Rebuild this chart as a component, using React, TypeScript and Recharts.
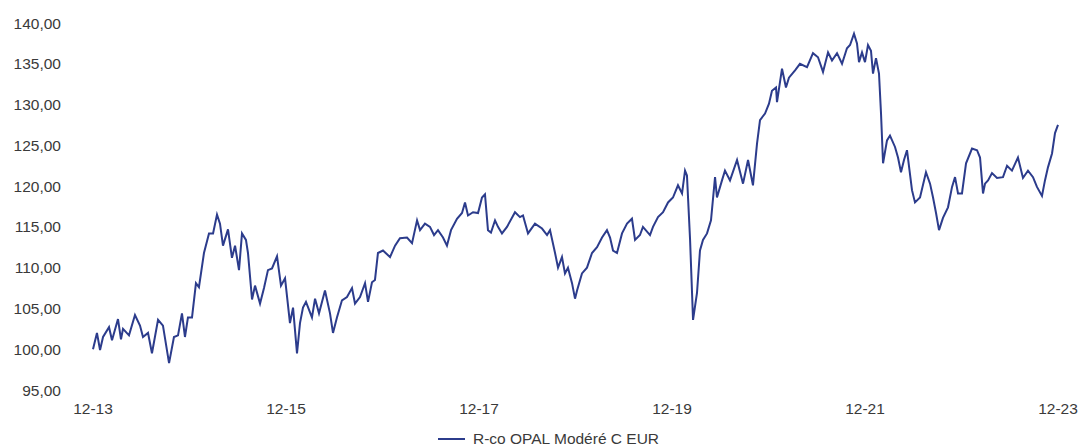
import { LineChart, Line, XAxis, YAxis } from "recharts"

// years elapsed since december 2013
const years = [
  0.0, 0.041, 0.073, 0.104, 0.166, 0.197, 0.259, 0.29, 0.311, 0.373, 0.435, 0.487, 0.518, 0.57, 0.611, 0.674,
  0.725, 0.788, 0.839, 0.881, 0.922, 0.953, 0.984, 1.026, 1.067, 1.098, 1.15, 1.202, 1.244, 1.285, 1.316, 1.347,
  1.399, 1.44, 1.472, 1.513, 1.544, 1.585, 1.606, 1.648, 1.679, 1.731, 1.772, 1.813, 1.855, 1.907, 1.948, 1.99,
  2.041, 2.073, 2.114, 2.145, 2.176, 2.207, 2.269, 2.301, 2.342, 2.404, 2.456, 2.487, 2.528, 2.58, 2.632, 2.684,
  2.715, 2.767, 2.819, 2.85, 2.891, 2.922, 2.953, 3.005, 3.078, 3.13, 3.181, 3.254, 3.306, 3.358, 3.389, 3.44,
  3.492, 3.534, 3.575, 3.627, 3.668, 3.71, 3.772, 3.824, 3.855, 3.886, 3.938, 3.99, 4.031, 4.062, 4.093, 4.124,
  4.166, 4.197, 4.238, 4.29, 4.373, 4.425, 4.456, 4.508, 4.58, 4.653, 4.705, 4.736, 4.788, 4.819, 4.86, 4.891,
  4.922, 4.964, 4.995, 5.016, 5.067, 5.119, 5.171, 5.223, 5.275, 5.326, 5.358, 5.389, 5.43, 5.482, 5.534, 5.585,
  5.617, 5.668, 5.699, 5.772, 5.803, 5.855, 5.907, 5.959, 6.01, 6.062, 6.104, 6.135, 6.155, 6.187, 6.218, 6.259,
  6.29, 6.321, 6.363, 6.404, 6.446, 6.466, 6.518, 6.549, 6.601, 6.674, 6.736, 6.788, 6.839, 6.881, 6.912, 6.964,
  7.005, 7.036, 7.078, 7.088, 7.14, 7.181, 7.212, 7.275, 7.326, 7.399, 7.461, 7.513, 7.565, 7.617, 7.658, 7.71,
  7.762, 7.813, 7.845, 7.886, 7.917, 7.938, 7.969, 8.0, 8.031, 8.062, 8.083, 8.114, 8.145, 8.166, 8.187, 8.228,
  8.259, 8.311, 8.342, 8.373, 8.404, 8.435, 8.487, 8.518, 8.57, 8.632, 8.674, 8.705, 8.736, 8.767, 8.808, 8.86,
  8.902, 8.933, 8.964, 9.005, 9.047, 9.109, 9.161, 9.192, 9.223, 9.244, 9.275, 9.316, 9.368, 9.43, 9.472, 9.523,
  9.585, 9.637, 9.689, 9.741, 9.782, 9.834, 9.865, 9.896, 9.938, 9.969, 10.0,
]

const values = [
  100.0, 102.0, 99.9, 101.5, 102.7, 101.1, 103.7, 101.2, 102.5, 101.7, 104.2, 102.9, 101.5, 102.0, 99.5, 103.6,
  102.9, 98.3, 101.5, 101.7, 104.4, 101.5, 103.9, 103.9, 108.1, 107.6, 111.8, 114.2, 114.2, 116.5, 115.4, 112.7,
  114.7, 111.2, 112.7, 109.7, 114.2, 113.4, 111.8, 106.1, 107.8, 105.6, 107.5, 109.7, 109.9, 111.4, 107.8, 108.7,
  103.2, 105.1, 99.5, 103.2, 105.1, 105.8, 103.9, 106.2, 104.4, 107.2, 104.4, 102.0, 103.9, 106.0, 106.4, 107.5,
  105.6, 106.4, 108.1, 105.8, 108.2, 108.5, 111.8, 112.1, 111.3, 112.7, 113.6, 113.7, 113.0, 115.8, 114.6, 115.4,
  115.0, 114.0, 114.6, 113.7, 112.7, 114.6, 116.0, 116.7, 118.0, 116.4, 116.8, 116.7, 118.6, 119.0, 114.6, 114.3,
  115.8, 115.0, 114.2, 115.0, 116.8, 116.2, 116.4, 114.2, 115.4, 114.8, 114.0, 114.6, 111.8, 110.0, 111.3, 109.3,
  110.0, 108.1, 106.2, 107.2, 109.3, 110.0, 111.8, 112.5, 113.7, 114.6, 113.7, 112.1, 111.8, 114.2, 115.4, 116.0,
  113.4, 114.0, 115.0, 114.0, 115.0, 116.2, 116.8, 118.0, 118.6, 120.1, 119.1, 121.9, 121.3, 113.5, 103.6, 106.9,
  112.1, 113.4, 114.2, 115.8, 121.1, 118.6, 120.7, 121.9, 120.7, 123.2, 120.3, 123.2, 120.1, 125.2, 128.1, 128.9,
  130.1, 131.7, 132.1, 130.3, 134.4, 132.1, 133.3, 134.2, 135.0, 134.6, 136.3, 135.8, 134.0, 136.4, 135.4, 136.3,
  135.0, 136.9, 137.3, 138.7, 137.5, 135.2, 136.4, 135.2, 137.3, 136.6, 133.8, 135.7, 133.8, 128.9, 122.8, 125.6,
  126.2, 124.8, 123.5, 121.7, 123.2, 124.4, 119.5, 118.0, 118.6, 121.7, 120.3, 118.6, 116.7, 114.6, 116.1, 117.4,
  119.9, 121.1, 119.1, 119.1, 122.8, 124.6, 124.4, 123.5, 119.1, 120.3, 120.7, 121.6, 121.0, 121.1, 122.5, 121.9,
  123.5, 121.0, 121.9, 121.1, 119.9, 118.8, 120.7, 122.3, 124.0, 126.5, 127.5,
]

const xTicks = [0, 2, 4, 6, 8, 10]
const xTickLabels = ["12-13", "12-15", "12-17", "12-19", "12-21", "12-23"]
const yTicks = [95, 100, 105, 110, 115, 120, 125, 130, 135, 140]

const SERIES = "R-co OPAL Modéré C EUR"
const LINE_COLOR = "#2c3c8c"
const FONT = "'Liberation Sans', Arial, sans-serif"

const data = years.map((t, i) => ({ t, v: values[i] }))

const tickStyle = { fontSize: 15.5, fill: "#3a3a3a", fontFamily: FONT }

export default function App() {
  // pinned to the window so the page never gets scrollbars
  return (
    <div style={{ position: "fixed", top: 0, left: 0, width: 1080, height: 448, overflow: "hidden", background: "#fff" }}>
      <LineChart width={1080} height={448} data={data} margin={{ top: 23, right: 22, left: 0, bottom: 0 }}>
        <XAxis
          dataKey="t"
          type="number"
          domain={[0, 10]}
          ticks={xTicks}
          tickFormatter={(v) => xTickLabels[xTicks.indexOf(v)]}
          axisLine={false}
          tickLine={false}
          tickSize={0}
          tickMargin={13}
          height={58}
          tick={tickStyle}
          interval={0}
        />
        <YAxis
          domain={[95, 140]}
          ticks={yTicks}
          tickFormatter={(v) => v.toFixed(2).replace(".", ",")}
          axisLine={false}
          tickLine={false}
          tickSize={0}
          tickMargin={32}
          width={93}
          tick={tickStyle}
          interval={0}
        />
        <Line
          type="linear"
          dataKey="v"
          stroke={LINE_COLOR}
          strokeWidth={2}
          dot={false}
          isAnimationActive={false}
        />
      </LineChart>
      <div
        style={{
          position: "absolute",
          top: 430,
          left: 438,
          display: "flex",
          alignItems: "center",
          fontFamily: FONT,
          fontSize: 15.5,
          lineHeight: "17px",
          color: "#3a3a3a",
          whiteSpace: "nowrap",
        }}
      >
        <span style={{ display: "inline-block", width: 27, height: 2, background: LINE_COLOR, marginRight: 8 }} />
        {SERIES}
      </div>
    </div>
  )
}
